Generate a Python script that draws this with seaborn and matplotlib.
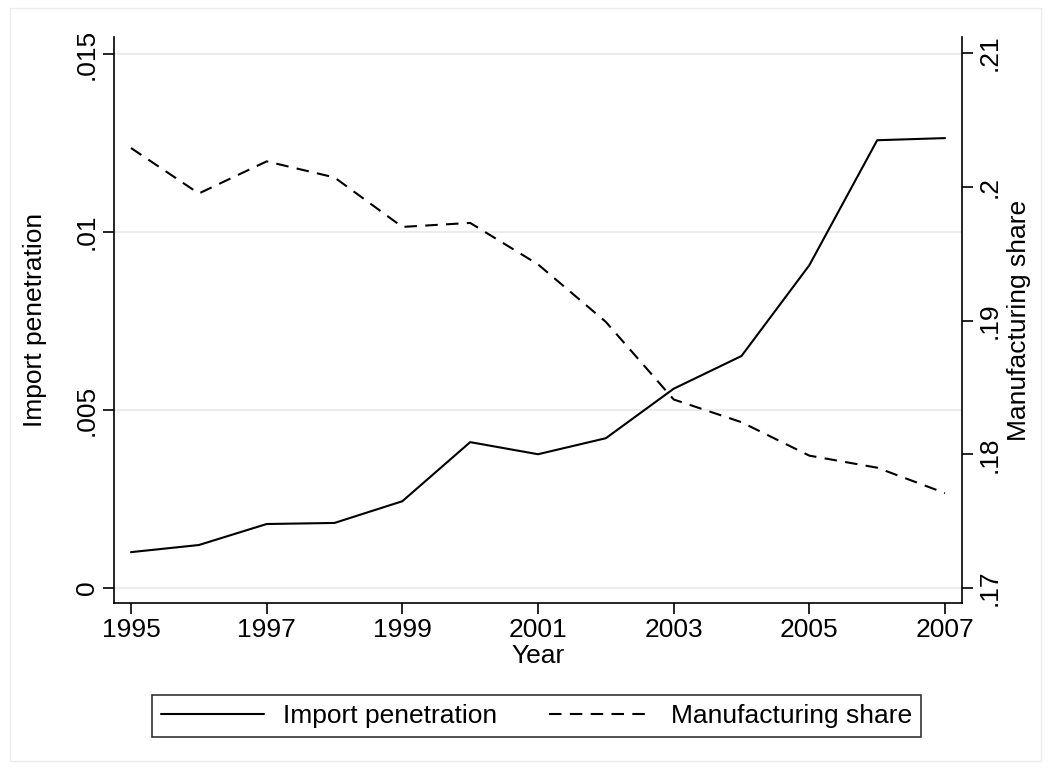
import pandas as pd
import matplotlib
matplotlib.use("Agg")
import matplotlib.pyplot as plt
import seaborn as sns
from matplotlib.patches import Rectangle

# values
years = [1995, 1996, 1997, 1998, 1999, 2000, 2001, 2002, 2003, 2004, 2005, 2006, 2007]
import_penetration = [0.00101, 0.00121, 0.00180, 0.00183, 0.00244, 0.00410, 0.00376,
                      0.00421, 0.00560, 0.00652, 0.00907, 0.01258, 0.01264]
manufacturing_share = [0.2029, 0.1995, 0.2019, 0.2007, 0.1970, 0.1973, 0.1942,
                       0.1899, 0.1841, 0.1824, 0.1799, 0.1790, 0.1771]

left_ticks = [0, 0.005, 0.01, 0.015]
left_labels = ["0", ".005", ".01", ".015"]
right_ticks = [0.17, 0.18, 0.19, 0.2, 0.21]
right_labels = [".17", ".18", ".19", ".2", ".21"]
year_ticks = [1995, 1997, 1999, 2001, 2003, 2005, 2007]

df = pd.DataFrame({"Year": years,
                   "Import penetration": import_penetration,
                   "Manufacturing share": manufacturing_share})

sns.set_style("white")
plt.rcParams["font.family"] = ["Liberation Sans", "DejaVu Sans"]
plt.rcParams["text.color"] = "black"
plt.rcParams["axes.labelcolor"] = "black"
plt.rcParams["xtick.color"] = "black"
plt.rcParams["ytick.color"] = "black"
fs = 19

fig = plt.figure(figsize=(10.51, 7.69), dpi=100)
ax = fig.add_axes([0.1085, 0.2158, 0.8068, 0.7361])
ax2 = ax.twinx()

sns.lineplot(data=df, x="Year", y="Import penetration", ax=ax, color="black",
             linewidth=1.5, label="Import penetration", legend=False)
sns.lineplot(data=df, x="Year", y="Manufacturing share", ax=ax2, color="black",
             linewidth=1.5, label="Manufacturing share", legend=False)
ax2.lines[0].set_dashes((6, 4))

ax.set_xlim(1994.75, 2007.25)
ax.set_ylim(-0.00042, 0.01548)
ax2.set_ylim(0.16888, 0.2112)

ax.set_xticks(year_ticks)
ax.set_yticks(left_ticks)
ax.set_yticklabels(left_labels)
ax2.set_yticks(right_ticks)
ax2.set_yticklabels(right_labels)

ax.grid(axis="y", color="#ececec", linewidth=1.5)
ax.grid(axis="x", visible=False)
ax2.grid(False)
ax.set_axisbelow(True)

for a in (ax, ax2):
    for s in a.spines.values():
        s.set_visible(False)
ax.spines["left"].set_visible(True)
ax.spines["bottom"].set_visible(True)
ax2.spines["right"].set_visible(True)
for s in (ax.spines["left"], ax.spines["bottom"], ax2.spines["right"]):
    s.set_color("black")
    s.set_linewidth(1.2)

ax.tick_params(axis="both", direction="out", length=8, width=1.2, color="black",
               labelcolor="black", labelsize=fs, pad=3, left=True, bottom=True)
ax2.tick_params(axis="y", direction="out", length=8, width=1.2, color="black",
                labelcolor="black", labelsize=fs, pad=3, right=True)
for lab in ax.get_yticklabels():
    lab.set_rotation(90)
    lab.set_va("center")
for lab in ax2.get_yticklabels():
    lab.set_rotation(90)
    lab.set_va("center")

ax.set_xlabel("Year", fontsize=fs, labelpad=1)
ax.set_ylabel("Import penetration", fontsize=fs, labelpad=20)
ax2.set_ylabel("Manufacturing share", fontsize=fs, labelpad=4)

h1, l1 = ax.get_legend_handles_labels()
h2, l2 = ax2.get_legend_handles_labels()
leg = fig.legend(h1 + h2, l1 + l2, loc="center", bbox_to_anchor=(0.5105, 0.069),
                 ncol=2, fontsize=fs, frameon=True, fancybox=False,
                 handlelength=3.9, handletextpad=0.7, columnspacing=2.0,
                 borderpad=0.35)
leg.get_frame().set_edgecolor("black")
leg.get_frame().set_linewidth(1.2)

# faint outer graph region border
fig.patches.append(Rectangle((10 / 1051, 8 / 769), 1031 / 1051, 753 / 769,
                             transform=fig.transFigure, fill=False,
                             edgecolor="#ececec", linewidth=1))

fig.savefig("out.png", dpi=100, facecolor="white")
